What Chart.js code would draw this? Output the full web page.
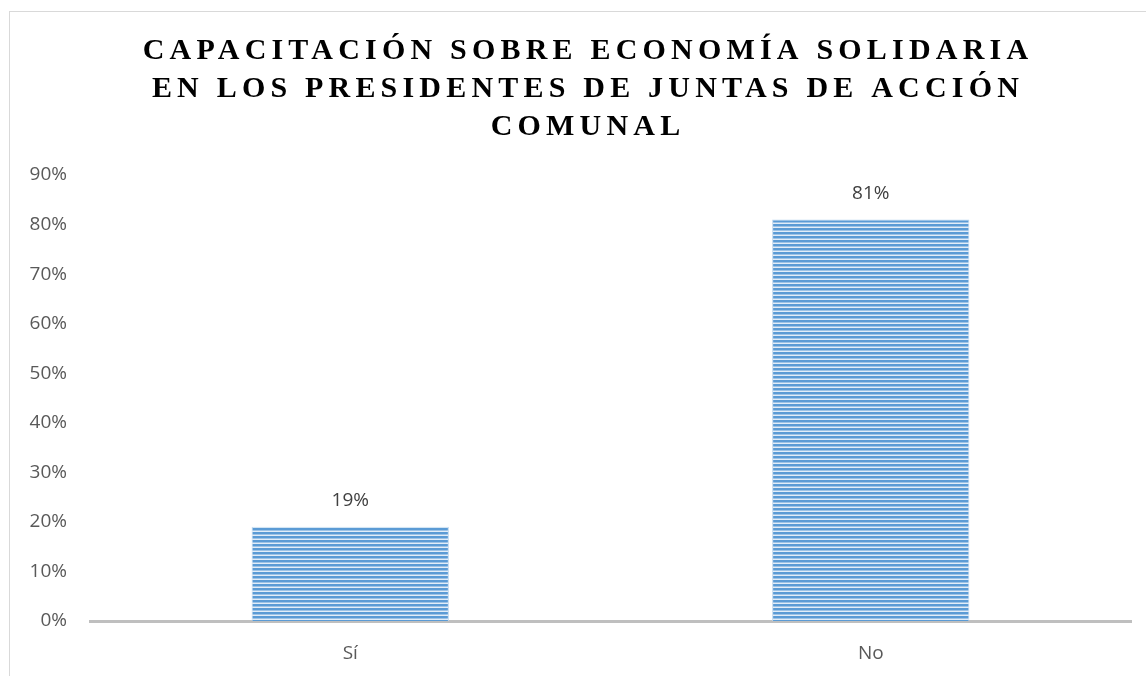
<!DOCTYPE html>
<html>
<head>
<meta charset="utf-8">
<script src="https://cdn.jsdelivr.net/npm/chart.js@4.4.1/dist/chart.umd.min.js"></script>
<style>
  html, body { margin: 0; padding: 0; background: #fff; }
  #wrap { position: absolute; left: 0; top: 0; width: 1146px; height: 676px; }
</style>
</head>
<body>
<div id="wrap"><canvas id="c" width="1146" height="676"></canvas></div>
<script>
const titleLines = ['CAPACITACIÓN SOBRE ECONOMÍA SOLIDARIA', 'EN LOS PRESIDENTES DE JUNTAS DE ACCIÓN', 'COMUNAL'];
const categories = ['Sí', 'No'];
const values = [0.19, 0.81];
const valueLabels = ['19%', '81%'];
const yTickLabels = ['0%', '10%', '20%', '30%', '40%', '50%', '60%', '70%', '80%', '90%'];

const labelFont = '"Open Sans", "Liberation Sans", sans-serif';

function makePattern() {
  const p = document.createElement('canvas');
  p.width = 4; p.height = 4;
  const g = p.getContext('2d');
  g.fillStyle = '#5B9BD5'; g.fillRect(0, 0, 4, 2);
  g.fillStyle = '#9DC3E6'; g.fillRect(0, 2, 4, 1);
  g.fillStyle = '#E2EDF8'; g.fillRect(0, 3, 4, 1);
  return document.getElementById('c').getContext('2d').createPattern(p, 'repeat');
}

const frame = {
  id: 'frame',
  beforeDraw(chart) {
    const ctx = chart.ctx;
    ctx.save();
    ctx.strokeStyle = '#D9D9D9';
    ctx.lineWidth = 1;
    ctx.strokeRect(9.5, 11.5, 2000, 2000);
    ctx.restore();
  }
};

const spacedTitle = {
  id: 'spacedTitle',
  afterDraw(chart) {
    const ctx = chart.ctx;
    ctx.save();
    ctx.font = 'bold 30px "Liberation Serif", "Times New Roman", serif';
    ctx.fillStyle = '#000000';
    ctx.textAlign = 'center';
    ctx.textBaseline = 'middle';
    ctx.letterSpacing = '5.2px';
    const ys = [51, 89, 127];
    titleLines.forEach((t, i) => ctx.fillText(t, 588, ys[i]));
    ctx.restore();
  }
};

const valueLabelPlugin = {
  id: 'valueLabels',
  afterDatasetsDraw(chart) {
    const ctx = chart.ctx;
    const meta = chart.getDatasetMeta(0);
    ctx.save();
    ctx.font = '19px ' + labelFont;
    ctx.fillStyle = '#404040';
    ctx.textAlign = 'center';
    ctx.textBaseline = 'middle';
    meta.data.forEach((bar, i) => {
      ctx.fillText(valueLabels[i], bar.x, bar.y - 26);
    });
    ctx.restore();
  }
};

new Chart(document.getElementById('c'), {
  type: 'bar',
  data: {
    labels: categories,
    datasets: [{
      data: values,
      backgroundColor: makePattern(),
      borderColor: '#BDD7EE',
      borderWidth: 1,
      categoryPercentage: 1,
      barPercentage: 0.379
    }]
  },
  options: {
    responsive: false,
    animation: false,
    layout: { padding: { top: 175, right: 15, left: 0, bottom: 0 } },
    plugins: { legend: { display: false }, title: { display: false }, tooltip: { enabled: false } },
    scales: {
      x: {
        grid: { display: false },
        border: { display: true, color: '#BFBFBF', width: 3 },
        ticks: { color: '#595959', font: { size: 19, family: labelFont }, padding: 13 },
        afterFit(s) { s.height = 55; }
      },
      y: {
        min: 0, max: 0.9,
        grid: { display: false, drawTicks: false },
        border: { display: false },
        ticks: {
          stepSize: 0.1,
          color: '#595959',
          font: { size: 19, family: labelFont },
          padding: 23,
          callback: (v, i) => yTickLabels[i]
        },
        afterFit(s) { s.width = 90; }
      }
    }
  },
  plugins: [frame, spacedTitle, valueLabelPlugin]
});
</script>
</body>
</html>
